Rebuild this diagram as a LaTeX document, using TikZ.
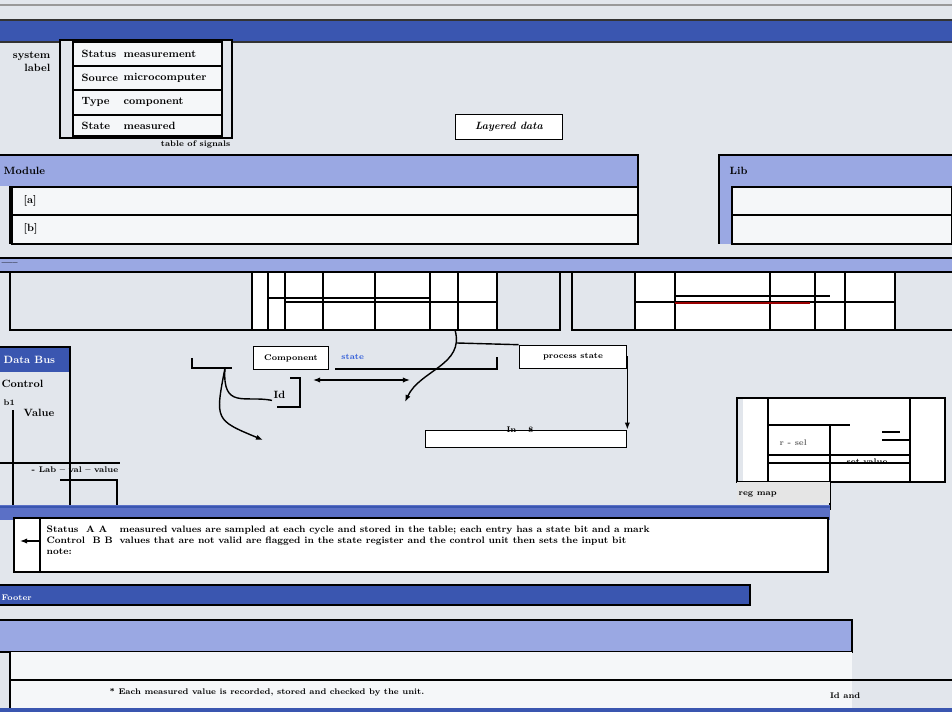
\documentclass[tikz,border=0pt]{standalone}
\usepackage{amsmath}
\usepackage{tikz}
\usetikzlibrary{positioning,arrows.meta}
\usepackage{xcolor}
\definecolor{paper}{HTML}{E2E6EC}
\definecolor{deepband}{HTML}{3A56B0}
\definecolor{midband}{HTML}{5B70C6}
\definecolor{paleband}{HTML}{9AA8E3}
\definecolor{rowfill}{HTML}{F5F7F9}
\definecolor{statecol}{HTML}{2F5BD8}
\tikzset{
	lbl/.style={font=\small\bfseries, inner sep=1pt},
	tiny/.style={font=\scriptsize\bfseries, inner sep=1pt},
	rowbox/.style={draw=black, line width=1pt, fill=rowfill},
	tag/.style={draw=black, line width=1pt, fill=white, font=\small\bfseries, inner sep=3pt},
	wire/.style={black, line width=1.2pt},
	arr/.style={black, line width=1.2pt, -{Latex[length=6pt]}}
}

\begin{document}
\begin{tikzpicture}[x=0.03cm, y=-0.03cm, line width=0.9pt]
										\fill [paper] (0, 0) rectangle (952, 712);
										\useasboundingbox (0, 0) rectangle (952, 712);
										\draw [black!40] (0, 5)--(952, 5);
										\fill [deepband] (0, 20) rectangle (952, 42);
										\draw [black!80] (0, 20)--(952, 20) (0, 42)--(952, 42);
										\node [lbl, align=right, anchor=north east] (sys) at (52, 50) {system\\label};
										\draw [black, line width=1.2pt, fill=paper] (60, 40) rectangle (232, 138);
										\foreach \ya/\yb/\ka/\kb [count=\i] in {42/66/Status/measurement,66/90/Source/microcomputer,90/115/Type/component,115/136/State/measured} {
											\draw [rowbox] (73, \ya) rectangle (222, \yb);
											\node [lbl, anchor=west] (key\i) at (80, {(\ya+\yb)/2}) {\ka};
											\node [lbl, anchor=west] (val\i) at (122, {(\ya+\yb)/2}) {\kb};
										}
										\node [tiny, anchor=north east] (tabcap) at (232, 139) {table of signals};
										\node [tag, font=\small\bfseries\itshape, minimum width=92pt, minimum height=21pt] (layer) at (509, 127) {Layered data};
										\fill [paleband] (0, 155) rectangle (638, 186);
										\draw [black] (0, 155)--(638, 155)--(638, 186);
										\node [lbl, anchor=west] (modhead) at (2, 171) {Module};
										\draw [rowbox] (12, 187) rectangle (638, 215);
										\draw [rowbox] (12, 215) rectangle (638, 244);
										\node [lbl, anchor=west] (moda) at (22, 201) {[a]};
										\node [lbl, anchor=west] (modb) at (22, 229) {[b]};
										\draw [black, line width=1.5pt] (10, 186)--(10, 244);
										\fill [paleband] (719, 155) rectangle (952, 244);
										\draw [black] (719, 244)--(719, 155)--(952, 155);
										\node [lbl, anchor=west] (libhead) at (728, 171) {Lib};
										\draw [rowbox] (732, 187) rectangle (952, 215);
										\draw [rowbox] (732, 215) rectangle (952, 244);
										\fill [paleband] (0, 258) rectangle (952, 272);
										\draw [black] (0, 258)--(952, 258) (0, 272)--(952, 272);
										\node [tiny, anchor=west] (bushead) at (0, 264) {-----};
										\draw [black, line width=1.2pt] (10, 272)--(10, 330)--(560, 330)--(560, 272);
										\draw [black, line width=1.2pt] (572, 272)--(572, 330)--(952, 330);
										\fill [white] (252, 272) rectangle (497, 330);
										\draw [black, line width=1.2pt] (252, 272) rectangle (497, 330);
										\foreach \x in {268, 285, 323, 375, 430, 458} {
											\draw [black, line width=1.2pt] (\x, 272)--(\x, 330);
										}
										\draw [black, line width=1.2pt] (268, 298)--(430, 298) (285, 302)--(497, 302);
										\draw [black] (375, 285)--(375, 318);
										\fill [white] (635, 272) rectangle (895, 330);
										\draw [black, line width=1.2pt] (635, 272) rectangle (895, 330);
										\foreach \x in {675, 770, 815, 845} {
											\draw [black, line width=1.2pt] (\x, 272)--(\x, 330);
										}
										\draw [black, line width=1.2pt] (635, 302)--(895, 302) (675, 296)--(830, 296);
										\draw [red!60!black] (675, 303)--(810, 303);
										\fill [deepband] (0, 347) rectangle (70, 372);
										\draw [black] (0, 347)--(70, 347)--(70, 505);
										\node [lbl, white, anchor=west] (datahead) at (2, 360) {Data Bus};
										\node [lbl, anchor=west] (ctrl) at (0, 384) {Control};
										\node [tiny, anchor=west] (bit) at (2, 403) {b1};
										\node [lbl, anchor=west] (value) at (22, 413) {Value};
										\draw [black, line width=1.5pt] (13, 410)--(13, 515);
										\draw [black] (0, 463)--(120, 463);
										\node [tiny, anchor=west] (scale) at (30, 470) {- Lab -- val -- value};
										\draw [black, line width=1.2pt] (60, 480)--(117, 480)--(117, 505);
										\node [tag, font=\scriptsize\bfseries, minimum width=64pt, minimum height=19pt] (comp) at (291, 358) {Component};
										\node [font=\scriptsize\bfseries, text=statecol, anchor=west] (state) at (337, 357) {state};
										\draw [black] (335, 369)--(497, 369)--(497, 357);
										\node [tag, font=\scriptsize\bfseries, minimum width=92pt, minimum height=20pt] (proc) at (573, 357) {process state};
										\coordinate (gridfoot) at (455, 330);
										\coordinate (bend) at (405, 402);
										\draw [wire] (457, 343)--(proc.north west);
										\draw [arr] (gridfoot) .. controls (465, 365) and (420, 370) .. (bend);
										\node [draw=black, line width=1pt, fill=white, minimum width=172pt, minimum height=15pt, inner sep=0pt] (input) at (526, 439) {};
										\node [tiny, anchor=north] (inlbl) at (520, 425) {In \quad 8};
										\draw [arr] (proc.east) -| (input.north east);
										\draw [black] (192, 358)--(192, 368)--(232, 368);
										\coordinate (brk) at (225, 368);
										\coordinate (tail) at (263, 440);
										\node [lbl, anchor=west] (idx) at (272, 395) {Id};
										\draw [black] (290, 378)--(300, 378)--(300, 407)--(277, 407);
										\draw [arr] (brk) .. controls (215, 420) .. (tail);
										\draw [wire] (brk) .. controls (222, 410) and (245, 395) .. (idx.south west);
										\draw [wire, {Latex[length=6pt]}-{Latex[length=6pt]}] (313, 380)--(410, 380);
										\fill [white] (743, 398) rectangle (945, 482);
										\draw [black, line width=1.2pt] (737, 398) rectangle (945, 482);
										\draw [black, line width=1.2pt] (768, 398)--(768, 482) (910, 398)--(910, 482);
										\draw [black, line width=1.2pt] (768, 425)--(850, 425) (768, 455)--(910, 455) (768, 463)--(910, 463);
										\draw [black] (882, 432)--(900, 432) (882, 440)--(910, 440);
										\node [tiny, black!60, anchor=west] (regnote) at (778, 443) {r - sel};
										\node [tiny, anchor=west] (regval) at (845, 462) {set value};
										\draw [black, line width=1.2pt] (830, 425)--(830, 510);
										\fill [black!10] (737, 482) rectangle (830, 503);
										\node [tiny, anchor=west] (regcap) at (737, 494) {reg map};
										\fill [midband] (0, 505) rectangle (830, 520);
										\draw [deepband, line width=1.5pt] (0, 507)--(830, 507);
										\draw [rowbox, fill=white] (14, 518) rectangle (828, 572);
										\draw [black, line width=1.2pt] (40, 518)--(40, 572);
										\coordinate (notefoot) at (20, 541);
										\draw [arr] (40, 541)--(notefoot);
										\node [font=\footnotesize\bfseries, inner sep=1pt, anchor=north west, align=left] (notekey) at (45, 524) {Status\ \ A A\\Control\ \ B B\\note:};
										\node [font=\footnotesize\bfseries, inner sep=1pt, anchor=north west, align=left] (notetext) at (118, 524) {measured values are sampled at each cycle and stored in the table; each entry has a state bit and a mark\\values that are not valid are flagged in the state register and the control unit then sets the input bit};
										\fill [deepband] (0, 585) rectangle (750, 605);
										\draw [black] (0, 585)--(750, 585)--(750, 605)--(0, 605);
										\node [tiny, white, anchor=west] (foothead) at (0, 598) {Footer};
										\fill [paleband] (0, 620) rectangle (852, 652);
										\draw [black, line width=1.2pt] (0, 620)--(852, 620)--(852, 652)--(0, 652);
										\fill [rowfill] (10, 652) rectangle (852, 708);
										\draw [black] (10, 652)--(10, 708);
										\draw [black, line width=1.2pt] (10, 680)--(952, 680);
										\node [tiny, anchor=west] (foottext) at (108, 692) {* Each measured value is recorded, stored and checked by the unit.};
										\node [tiny, anchor=east] (footid) at (862, 696) {Id and};
										\fill [deepband] (0, 708) rectangle (952, 712);
									\end{tikzpicture}
\end{document}
